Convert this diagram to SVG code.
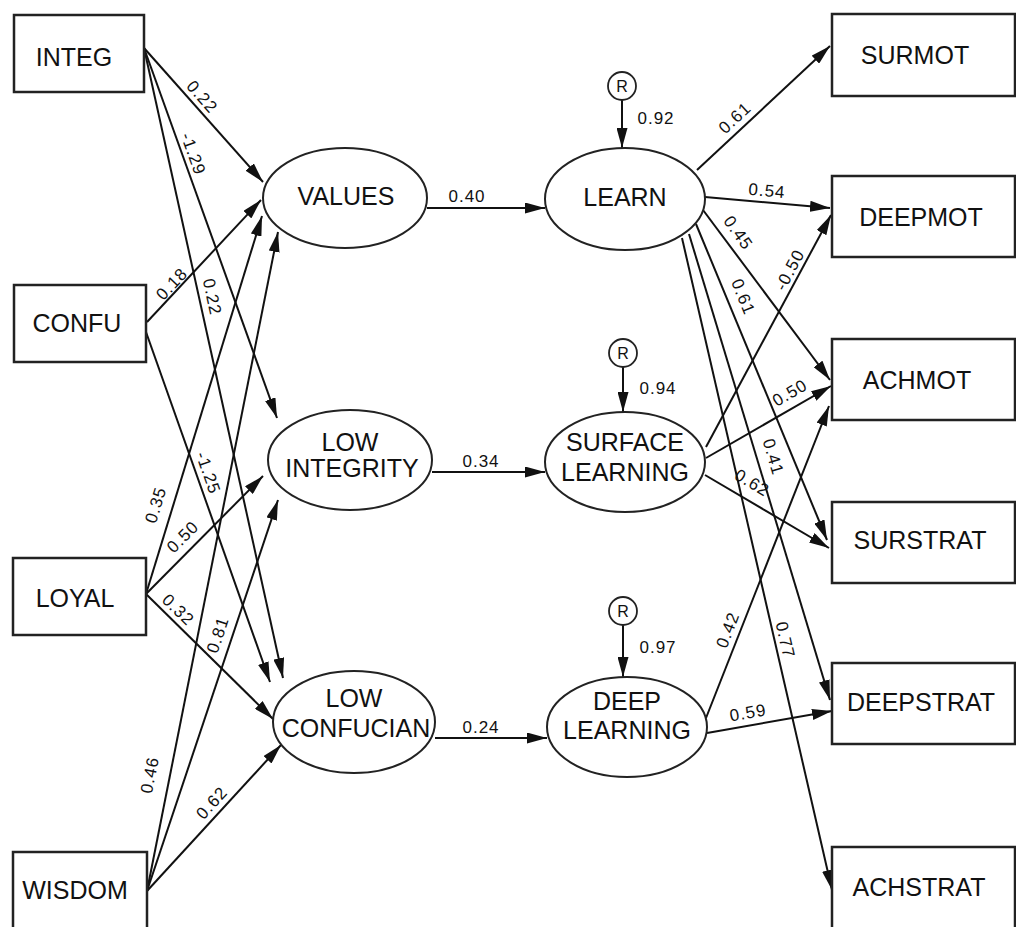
<svg xmlns="http://www.w3.org/2000/svg" width="1016" height="927" viewBox="0 0 1016 927">
<defs>
<marker id="ah" viewBox="0 0 20 11" refX="20" refY="5.5" markerWidth="20" markerHeight="11" markerUnits="userSpaceOnUse" orient="auto">
<path d="M0,0 L20,5.5 L0,11 z" fill="#111"/>
</marker>
<style>
.box{fill:#fff;stroke:#222;stroke-width:2.5}
.ell{fill:#fff;stroke:#222;stroke-width:2}
.res{fill:#fff;stroke:#222;stroke-width:1.8}
.lbl{font-family:"Liberation Sans",Arial,sans-serif;font-size:25px;fill:#111;text-anchor:middle;dominant-baseline:central}
.rl{font-family:"Liberation Sans",Arial,sans-serif;font-size:16px;fill:#111;text-anchor:middle;dominant-baseline:central}
.num{font-family:"Liberation Sans",Arial,sans-serif;font-size:17px;letter-spacing:1px;fill:#111;text-anchor:middle;dominant-baseline:central}
.c path{fill:none;stroke:#111;stroke-width:2;marker-end:url(#ah)}
</style>
</defs>
<rect width="1016" height="927" fill="#fff"/>

<g id="connectors" class="c">
<path d="M144,48 L263,182"/>
<path d="M144,48 L277,418"/>
<path d="M144,48 L283,678"/>
<path d="M147,322 L261,200"/>
<path d="M146,332 L270,682"/>
<path d="M146,594 L262,216"/>
<path d="M146,594 L263,476"/>
<path d="M146,594 L273,719"/>
<path d="M147,891 L278,232"/>
<path d="M147,891 L278,500"/>
<path d="M147,891 L281,745"/>
<path d="M427,208 L545,208"/>
<path d="M432,472 L545,472"/>
<path d="M435,738 L547,738"/>
<path d="M622,100 L622,148"/>
<path d="M623,367 L623,412"/>
<path d="M623,625 L623,677"/>
<path d="M697,170 L830,46"/>
<path d="M705,197 L830,208"/>
<path d="M703,210 L830,380"/>
<path d="M696,224 L827,540"/>
<path d="M689,234 L830,700"/>
<path d="M682,238 L832,890"/>
<path d="M706,447 L831,215"/>
<path d="M706,458 L831,386"/>
<path d="M705,475 L829,548"/>
<path d="M706,718 L829,406"/>
<path d="M707,733 L832,711"/>
</g>

<g id="labels">
<text class="num" transform="translate(202,97) rotate(48.6)">0.22</text>
<text class="num" transform="translate(193,154) rotate(70.3)">-1.29</text>
<text class="num" transform="translate(212,297) rotate(77.6)">0.22</text>
<text class="num" transform="translate(172,284) rotate(-46.7)">0.18</text>
<text class="num" transform="translate(208,473) rotate(70.6)">-1.25</text>
<text class="num" transform="translate(156,505) rotate(-73)">0.35</text>
<text class="num" transform="translate(183,537) rotate(-45.2)">0.50</text>
<text class="num" transform="translate(178,610) rotate(44.5)">0.32</text>
<text class="num" transform="translate(218,635) rotate(-71.6)">0.81</text>
<text class="num" transform="translate(150,775) rotate(-78.8)">0.46</text>
<text class="num" transform="translate(212,803) rotate(-47.5)">0.62</text>
<text class="num" x="467" y="196">0.40</text>
<text class="num" x="481" y="461">0.34</text>
<text class="num" x="481" y="727">0.24</text>
<text class="num" x="656" y="118">0.92</text>
<text class="num" x="658" y="388">0.94</text>
<text class="num" x="658" y="647">0.97</text>
<text class="num" transform="translate(735,118) rotate(-43.2)">0.61</text>
<text class="num" transform="translate(767,191) rotate(5)">0.54</text>
<text class="num" transform="translate(738,233) rotate(54.4)">0.45</text>
<text class="num" transform="translate(743,297) rotate(68)">0.61</text>
<text class="num" transform="translate(790,270) rotate(-62.3)">-0.50</text>
<text class="num" transform="translate(790,393) rotate(-30.2)">0.50</text>
<text class="num" transform="translate(752,483) rotate(30.9)">0.62</text>
<text class="num" transform="translate(773,457) rotate(73.3)">0.41</text>
<text class="num" transform="translate(785,640) rotate(77)">0.77</text>
<text class="num" transform="translate(728,630) rotate(-69.2)">0.42</text>
<text class="num" transform="translate(748,713) rotate(-9.8)">0.59</text>
</g>

<g id="INTEG"><rect class="box" x="14" y="15" width="130" height="77"/><text class="lbl" x="74" y="57">INTEG</text></g>
<g id="CONFU"><rect class="box" x="14" y="285" width="132" height="77"/><text class="lbl" x="77" y="323">CONFU</text></g>
<g id="LOYAL"><rect class="box" x="13" y="558" width="133" height="77"/><text class="lbl" x="75" y="598">LOYAL</text></g>
<g id="WISDOM"><rect class="box" x="13" y="852" width="134" height="78"/><text class="lbl" x="75" y="890">WISDOM</text></g>

<g id="VALUES"><ellipse class="ell" cx="345" cy="198" rx="82" ry="50"/><text class="lbl" x="346" y="196">VALUES</text></g>
<g id="LOW_INTEGRITY"><ellipse class="ell" cx="350" cy="460" rx="82" ry="50"/><text class="lbl" x="350" y="442">LOW</text><text class="lbl" x="352" y="468">INTEGRITY</text></g>
<g id="LOW_CONFUCIAN"><ellipse class="ell" cx="354" cy="722" rx="81" ry="51"/><text class="lbl" x="354" y="698">LOW</text><text class="lbl" x="356" y="728">CONFUCIAN</text></g>

<g id="LEARN"><ellipse class="ell" cx="625" cy="199" rx="80" ry="51"/><text class="lbl" x="625" y="197">LEARN</text></g>
<g id="SURFACE_LEARNING"><ellipse class="ell" cx="625" cy="462" rx="80" ry="50"/><text class="lbl" x="625" y="442">SURFACE</text><text class="lbl" x="625" y="472">LEARNING</text></g>
<g id="DEEP_LEARNING"><ellipse class="ell" cx="627" cy="727" rx="80" ry="50"/><text class="lbl" x="627" y="701">DEEP</text><text class="lbl" x="627" y="730">LEARNING</text></g>

<g id="R1"><circle class="res" cx="622" cy="86" r="14"/><text class="rl" x="622" y="86">R</text></g>
<g id="R2"><circle class="res" cx="623" cy="353" r="14"/><text class="rl" x="623" y="353">R</text></g>
<g id="R3"><circle class="res" cx="623" cy="611" r="14"/><text class="rl" x="623" y="611">R</text></g>

<g id="SURMOT"><rect class="box" x="832" y="14" width="183" height="82"/><text class="lbl" x="915" y="55">SURMOT</text></g>
<g id="DEEPMOT"><rect class="box" x="832" y="176" width="183" height="81"/><text class="lbl" x="921" y="217">DEEPMOT</text></g>
<g id="ACHMOT"><rect class="box" x="832" y="339" width="183" height="81"/><text class="lbl" x="917" y="380">ACHMOT</text></g>
<g id="SURSTRAT"><rect class="box" x="832" y="502" width="183" height="81"/><text class="lbl" x="920" y="540">SURSTRAT</text></g>
<g id="DEEPSTRAT"><rect class="box" x="832" y="663" width="183" height="81"/><text class="lbl" x="921" y="702">DEEPSTRAT</text></g>
<g id="ACHSTRAT"><rect class="box" x="832" y="847" width="183" height="82"/><text class="lbl" x="919" y="887">ACHSTRAT</text></g>
</svg>
